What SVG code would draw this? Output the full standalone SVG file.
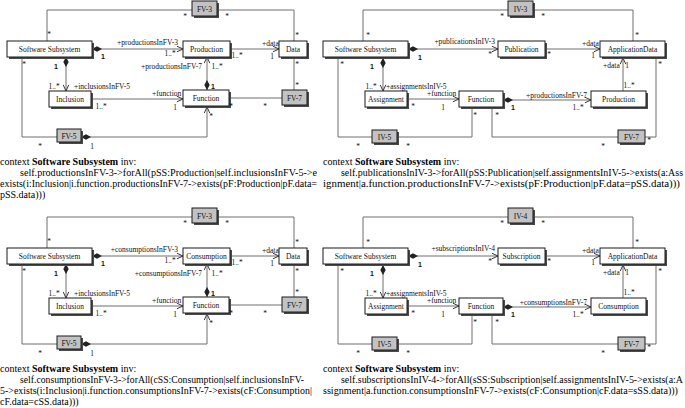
<svg xmlns="http://www.w3.org/2000/svg" width="685" height="408" viewBox="0 0 685 408">
<style>
.bg{fill:#fff}
.box{fill:#fff;stroke:#1a1a1a;stroke-width:1}
.gbox{fill:#c2c2c2;stroke:#1a1a1a;stroke-width:1}
.sh{fill:#4a4a4a}
.lbl{font-family:"Liberation Serif",serif;font-size:7.5px;fill:#111}
.nm{text-anchor:middle}
.e{text-anchor:end}
.sb{font-family:"Liberation Sans",sans-serif;font-weight:bold;font-size:7px;fill:#111;text-anchor:middle}
.c{fill:none;stroke:#6e6e6e;stroke-width:1}
.ad{marker-start:url(#dia);marker-end:url(#arr)}
.a{marker-end:url(#arr)}
.para{font-family:"Liberation Serif",serif;font-size:10px;fill:#000}
</style>
<defs>
<marker id="arr" viewBox="0 0 8 8" refX="7.5" refY="4" markerWidth="7" markerHeight="7" markerUnits="userSpaceOnUse" orient="auto"><path d="M0.5,0.8 L7.5,4 L0.5,7.2" fill="none" stroke="#333" stroke-width="1.1"/></marker>
<marker id="dia" viewBox="0 0 10 6" refX="0" refY="3" markerWidth="10" markerHeight="6" markerUnits="userSpaceOnUse" orient="auto"><path d="M0,3 L5,0.3 L10,3 L5,5.7 Z" fill="#222"/></marker>
</defs>
<rect class="bg" x="0" y="0" width="685" height="408"/>

<!-- ===== TOP LEFT ===== -->
<g id="diagram-tl">
<g id="tl-connectors">
<path class="c" d="M47,41 V10 H192"/>
<path class="c" d="M217,10 H294 V41"/>
<path class="c ad" d="M92,49 H183"/>
<path class="c a" d="M230,49 H279"/>
<path class="c ad" d="M207,90 V57"/>
<path class="c ad" d="M66,57 V91"/>
<path class="c a" d="M91,99 H183"/>
<path class="c" d="M294,57 V90"/>
<path class="c" d="M229,98 H282"/>
<path class="c" d="M22,57 V137 H57"/>
<path class="c ad" d="M81,137 H207 V107"/>
</g>
<g id="tl-ss"><rect class="sh" x="9" y="43" width="85" height="16"/><rect class="box" x="7" y="41" width="85" height="16"/><text class="lbl nm" x="49.5" y="52">Software Subsystem</text></g>
<g id="tl-production"><rect class="sh" x="185" y="43" width="47" height="16"/><rect class="box" x="183" y="41" width="47" height="16"/><text class="lbl nm" x="206.5" y="52">Production</text></g>
<g id="tl-data"><rect class="sh" x="281" y="43" width="28" height="16"/><rect class="box" x="279" y="41" width="28" height="16"/><text class="lbl nm" x="293" y="52">Data</text></g>
<g id="tl-inclusion"><rect class="sh" x="51" y="93" width="42" height="16"/><rect class="box" x="49" y="91" width="42" height="16"/><text class="lbl nm" x="70" y="102">Inclusion</text></g>
<g id="tl-function"><rect class="sh" x="185" y="92" width="46" height="16"/><rect class="box" x="183" y="90" width="46" height="16"/><text class="lbl nm" x="206" y="101">Function</text></g>
<g id="tl-fv3"><rect class="sh" x="194" y="3" width="25" height="15"/><rect class="gbox" x="192" y="1" width="25" height="15"/><text class="lbl nm" x="204.5" y="11.5">FV-3</text></g>
<g id="tl-fv7"><rect class="sh" x="284" y="92" width="25" height="15"/><rect class="gbox" x="282" y="90" width="25" height="15"/><text class="lbl nm" x="294.5" y="100.5">FV-7</text></g>
<g id="tl-fv5"><rect class="sh" x="59" y="131" width="24" height="13"/><rect class="gbox" x="57" y="129" width="24" height="13"/><text class="lbl nm" x="69" y="138.5">FV-5</text></g>
<g id="tl-labels">
<text class="lbl nm" x="49" y="37">*</text><text class="lbl nm" x="185" y="19">*</text><text class="lbl nm" x="227" y="19">*</text>
<text class="lbl nm" x="297" y="38">*</text><text class="lbl nm" x="297" y="67">*</text><text class="lbl nm" x="297" y="88">*</text>
<text class="lbl nm" x="231" y="109">*</text><text class="lbl nm" x="265" y="109">*</text><text class="lbl nm" x="24" y="67">*</text>
<text class="lbl nm" x="40" y="149">*</text><text class="lbl nm" x="211" y="119">*</text>
<text class="lbl nm" x="170" y="56">1..*</text><text class="lbl nm" x="217" y="69">1..*</text><text class="lbl nm" x="237" y="58">1..*</text>
<text class="lbl nm" x="54" y="89">1..*</text><text class="lbl nm" x="101" y="109">1..*</text>
<text class="lbl nm" x="272" y="59">1</text><text class="lbl nm" x="175" y="110">1</text><text class="lbl nm" x="92" y="149">1</text>
<text class="sb" x="103" y="59">1</text><text class="sb" x="56" y="69">1</text><text class="sb" x="213" y="89">1</text>
<text class="lbl e" x="178" y="44.5">+productionsInFV-3</text>
<text class="lbl e" x="202" y="69">+productionsInFV-7</text>
<text class="lbl" x="262" y="45.5">+data</text>
<text class="lbl" x="74" y="88.5">+inclusionsInFV-5</text>
<text class="lbl" x="152" y="95.5">+function</text>
</g>
</g>

<!-- ===== TOP RIGHT ===== -->
<g id="diagram-tr">
<g id="tr-connectors">
<path class="c" d="M363,41 V10 H508"/>
<path class="c" d="M533,10 H633 V41"/>
<path class="c ad" d="M408,49 H498"/>
<path class="c a" d="M545,49 H600"/>
<path class="c ad" d="M383,58 V91"/>
<path class="c a" d="M407,99 H459"/>
<path class="c ad" d="M503,100 H591"/>
<path class="c a" d="M623,91 V58"/>
<path class="c" d="M338,58 V137 H372"/>
<path class="c" d="M472,108 V137 H397"/>
<path class="c" d="M492,108 V137 H618"/>
<path class="c" d="M656,58 V137 H645"/>
</g>
<g id="tr-ss"><rect class="sh" x="325" y="43" width="85" height="16"/><rect class="box" x="323" y="41" width="85" height="16"/><text class="lbl nm" x="365.5" y="52">Software Subsystem</text></g>
<g id="tr-publication"><rect class="sh" x="500" y="43" width="47" height="16"/><rect class="box" x="498" y="41" width="47" height="16"/><text class="lbl nm" x="521.5" y="52">Publication</text></g>
<g id="tr-appdata"><rect class="sh" x="602" y="43" width="65" height="16"/><rect class="box" x="600" y="41" width="65" height="16"/><text class="lbl nm" x="632.5" y="52">ApplicationData</text></g>
<g id="tr-iv3"><rect class="sh" x="510" y="3" width="25" height="15"/><rect class="gbox" x="508" y="1" width="25" height="15"/><text class="lbl nm" x="520.5" y="11.5">IV-3</text></g>
<g id="tr-assignment"><rect class="sh" x="367" y="93" width="42" height="16"/><rect class="box" x="365" y="91" width="42" height="16"/><text class="lbl nm" x="386" y="102">Assignment</text></g>
<g id="tr-function"><rect class="sh" x="461" y="93" width="44" height="16"/><rect class="box" x="459" y="91" width="44" height="16"/><text class="lbl nm" x="481" y="102">Function</text></g>
<g id="tr-production"><rect class="sh" x="593" y="93" width="55" height="16"/><rect class="box" x="591" y="91" width="55" height="16"/><text class="lbl nm" x="618.5" y="102">Production</text></g>
<g id="tr-iv5"><rect class="sh" x="374" y="132" width="25" height="13"/><rect class="gbox" x="372" y="130" width="25" height="13"/><text class="lbl nm" x="384.5" y="139.5">IV-5</text></g>
<g id="tr-fv7"><rect class="sh" x="620" y="132" width="25" height="13"/><rect class="gbox" x="618" y="130" width="27" height="13"/><text class="lbl nm" x="631.5" y="139.5">FV-7</text></g>
<g id="tr-labels">
<text class="lbl nm" x="368" y="38">*</text><text class="lbl nm" x="502" y="19">*</text><text class="lbl nm" x="543" y="19">*</text>
<text class="lbl nm" x="637" y="38">*</text><text class="lbl nm" x="490" y="57">*</text><text class="lbl nm" x="549" y="57">*</text>
<text class="lbl nm" x="342" y="67">*</text><text class="lbl nm" x="413" y="109">*</text><text class="lbl nm" x="475" y="118">*</text>
<text class="lbl nm" x="497" y="118">*</text><text class="lbl nm" x="660" y="67">*</text><text class="lbl nm" x="358" y="149">*</text>
<text class="lbl nm" x="408" y="149">*</text><text class="lbl nm" x="603" y="149">*</text><text class="lbl nm" x="649" y="143">*</text>
<text class="lbl nm" x="371" y="89">1..*</text><text class="lbl nm" x="578" y="110">1..*</text><text class="lbl nm" x="629" y="88">1..*</text>
<text class="lbl nm" x="593" y="58">1</text><text class="lbl nm" x="443" y="110">1</text><text class="lbl nm" x="627" y="68">1</text>
<text class="sb" x="420" y="60">1</text><text class="sb" x="372" y="69">1</text><text class="sb" x="513" y="110">1</text>
<text class="lbl e" x="495" y="43.5">+publicationsInIV-3</text>
<text class="lbl" x="582" y="45.5">+data</text>
<text class="lbl" x="386" y="88.5">+assignmentsInIV-5</text>
<text class="lbl" x="427" y="96">+function</text>
<text class="lbl e" x="587" y="98">+productionsInFV-7</text>
<text class="lbl" x="603" y="67.5">+data</text>
</g>
</g>

<!-- ===== BOTTOM LEFT ===== -->
<g id="diagram-bl" transform="translate(0,207)">
<g id="bl-connectors">
<path class="c" d="M47,41 V10 H192"/>
<path class="c" d="M217,10 H294 V41"/>
<path class="c ad" d="M92,49 H183"/>
<path class="c a" d="M230,49 H279"/>
<path class="c ad" d="M207,90 V57"/>
<path class="c ad" d="M66,57 V91"/>
<path class="c a" d="M91,99 H183"/>
<path class="c" d="M294,57 V90"/>
<path class="c" d="M229,98 H282"/>
<path class="c" d="M22,57 V137 H57"/>
<path class="c ad" d="M81,137 H207 V107"/>
</g>
<g id="bl-ss"><rect class="sh" x="9" y="43" width="85" height="16"/><rect class="box" x="7" y="41" width="85" height="16"/><text class="lbl nm" x="49.5" y="52">Software Subsystem</text></g>
<g id="bl-consumption"><rect class="sh" x="185" y="43" width="47" height="16"/><rect class="box" x="183" y="41" width="47" height="16"/><text class="lbl nm" x="206.5" y="52">Consumption</text></g>
<g id="bl-data"><rect class="sh" x="281" y="43" width="28" height="16"/><rect class="box" x="279" y="41" width="28" height="16"/><text class="lbl nm" x="293" y="52">Data</text></g>
<g id="bl-inclusion"><rect class="sh" x="51" y="93" width="42" height="16"/><rect class="box" x="49" y="91" width="42" height="16"/><text class="lbl nm" x="70" y="102">Inclusion</text></g>
<g id="bl-function"><rect class="sh" x="185" y="92" width="46" height="16"/><rect class="box" x="183" y="90" width="46" height="16"/><text class="lbl nm" x="206" y="101">Function</text></g>
<g id="bl-fv3"><rect class="sh" x="194" y="3" width="25" height="15"/><rect class="gbox" x="192" y="1" width="25" height="15"/><text class="lbl nm" x="204.5" y="11.5">FV-3</text></g>
<g id="bl-fv7"><rect class="sh" x="284" y="92" width="25" height="15"/><rect class="gbox" x="282" y="90" width="25" height="15"/><text class="lbl nm" x="294.5" y="100.5">FV-7</text></g>
<g id="bl-fv5"><rect class="sh" x="59" y="131" width="24" height="13"/><rect class="gbox" x="57" y="129" width="24" height="13"/><text class="lbl nm" x="69" y="138.5">FV-5</text></g>
<g id="bl-labels">
<text class="lbl nm" x="49" y="37">*</text><text class="lbl nm" x="185" y="19">*</text><text class="lbl nm" x="227" y="19">*</text>
<text class="lbl nm" x="297" y="38">*</text><text class="lbl nm" x="297" y="67">*</text><text class="lbl nm" x="297" y="88">*</text>
<text class="lbl nm" x="231" y="109">*</text><text class="lbl nm" x="265" y="109">*</text><text class="lbl nm" x="24" y="67">*</text>
<text class="lbl nm" x="40" y="149">*</text><text class="lbl nm" x="211" y="119">*</text>
<text class="lbl nm" x="170" y="56">1..*</text><text class="lbl nm" x="217" y="69">1..*</text><text class="lbl nm" x="237" y="58">1..*</text>
<text class="lbl nm" x="54" y="89">1..*</text><text class="lbl nm" x="101" y="109">1..*</text>
<text class="lbl nm" x="272" y="59">1</text><text class="lbl nm" x="175" y="110">1</text><text class="lbl nm" x="92" y="149">1</text>
<text class="sb" x="103" y="59">1</text><text class="sb" x="56" y="69">1</text><text class="sb" x="213" y="89">1</text>
<text class="lbl e" x="178" y="44.5">+consumptionsInFV-3</text>
<text class="lbl e" x="202" y="69">+consumptionsInFV-7</text>
<text class="lbl" x="262" y="45.5">+data</text>
<text class="lbl" x="74" y="88.5">+inclusionsInFV-5</text>
<text class="lbl" x="152" y="95.5">+function</text>
</g>
</g>

<!-- ===== BOTTOM RIGHT ===== -->
<g id="diagram-br" transform="translate(0,207)">
<g id="br-connectors">
<path class="c" d="M363,41 V10 H508"/>
<path class="c" d="M533,10 H633 V41"/>
<path class="c ad" d="M408,49 H498"/>
<path class="c a" d="M545,49 H600"/>
<path class="c ad" d="M383,58 V91"/>
<path class="c a" d="M407,99 H459"/>
<path class="c ad" d="M503,100 H591"/>
<path class="c a" d="M623,91 V58"/>
<path class="c" d="M338,58 V137 H372"/>
<path class="c" d="M472,108 V137 H397"/>
<path class="c" d="M492,108 V137 H618"/>
<path class="c" d="M656,58 V137 H645"/>
</g>
<g id="br-ss"><rect class="sh" x="325" y="43" width="85" height="16"/><rect class="box" x="323" y="41" width="85" height="16"/><text class="lbl nm" x="365.5" y="52">Software Subsystem</text></g>
<g id="br-subscription"><rect class="sh" x="500" y="43" width="47" height="16"/><rect class="box" x="498" y="41" width="47" height="16"/><text class="lbl nm" x="521.5" y="52">Subscription</text></g>
<g id="br-appdata"><rect class="sh" x="602" y="43" width="65" height="16"/><rect class="box" x="600" y="41" width="65" height="16"/><text class="lbl nm" x="632.5" y="52">ApplicationData</text></g>
<g id="br-iv4"><rect class="sh" x="510" y="3" width="25" height="15"/><rect class="gbox" x="508" y="1" width="25" height="15"/><text class="lbl nm" x="520.5" y="11.5">IV-4</text></g>
<g id="br-assignment"><rect class="sh" x="367" y="93" width="42" height="16"/><rect class="box" x="365" y="91" width="42" height="16"/><text class="lbl nm" x="386" y="102">Assignment</text></g>
<g id="br-function"><rect class="sh" x="461" y="93" width="44" height="16"/><rect class="box" x="459" y="91" width="44" height="16"/><text class="lbl nm" x="481" y="102">Function</text></g>
<g id="br-consumption"><rect class="sh" x="593" y="93" width="55" height="16"/><rect class="box" x="591" y="91" width="55" height="16"/><text class="lbl nm" x="618.5" y="102">Consumption</text></g>
<g id="br-iv5"><rect class="sh" x="374" y="132" width="25" height="13"/><rect class="gbox" x="372" y="130" width="25" height="13"/><text class="lbl nm" x="384.5" y="139.5">IV-5</text></g>
<g id="br-fv7"><rect class="sh" x="620" y="132" width="25" height="13"/><rect class="gbox" x="618" y="130" width="27" height="13"/><text class="lbl nm" x="631.5" y="139.5">FV-7</text></g>
<g id="br-labels">
<text class="lbl nm" x="368" y="38">*</text><text class="lbl nm" x="502" y="19">*</text><text class="lbl nm" x="543" y="19">*</text>
<text class="lbl nm" x="637" y="38">*</text><text class="lbl nm" x="490" y="57">*</text><text class="lbl nm" x="549" y="57">*</text>
<text class="lbl nm" x="342" y="67">*</text><text class="lbl nm" x="413" y="109">*</text><text class="lbl nm" x="475" y="118">*</text>
<text class="lbl nm" x="497" y="118">*</text><text class="lbl nm" x="660" y="67">*</text><text class="lbl nm" x="358" y="149">*</text>
<text class="lbl nm" x="408" y="149">*</text><text class="lbl nm" x="603" y="149">*</text><text class="lbl nm" x="649" y="143">*</text>
<text class="lbl nm" x="371" y="89">1..*</text><text class="lbl nm" x="578" y="110">1..*</text><text class="lbl nm" x="629" y="88">1..*</text>
<text class="lbl nm" x="593" y="58">1</text><text class="lbl nm" x="443" y="110">1</text><text class="lbl nm" x="627" y="68">1</text>
<text class="sb" x="420" y="60">1</text><text class="sb" x="372" y="69">1</text><text class="sb" x="513" y="110">1</text>
<text class="lbl e" x="495" y="43.5">+subscriptionsInIV-4</text>
<text class="lbl" x="582" y="45.5">+data</text>
<text class="lbl" x="386" y="88.5">+assignmentsInIV-5</text>
<text class="lbl" x="427" y="96">+function</text>
<text class="lbl e" x="587" y="98">+consumptionsInFV-7</text>
<text class="lbl" x="603" y="67.5">+data</text>
</g>
</g>

<!-- ===== OCL TEXTS ===== -->
<g id="ocl-tl" class="para">
<text x="0" y="165">context <tspan font-weight="bold">Software Subsystem</tspan> inv:</text>
<text x="20" y="176" textLength="297" lengthAdjust="spacingAndGlyphs">self.productionsInFV-3-&gt;forAll(pSS:Production|self.inclusionsInFV-5-&gt;e</text>
<text x="0" y="187" textLength="317" lengthAdjust="spacingAndGlyphs">exists(i:Inclusion|i.function.productionsInFV-7-&gt;exists(pF:Production|pF.data=</text>
<text x="0" y="198">pSS.data)))</text>
</g>
<g id="ocl-tr" class="para">
<text x="323" y="165">context <tspan font-weight="bold">Software Subsystem</tspan> inv:</text>
<text x="341" y="176" textLength="342" lengthAdjust="spacingAndGlyphs">self.publicationsInIV-3-&gt;forAll(pSS:Publication|self.assignmentsInIV-5-&gt;exists(a:Ass</text>
<text x="323" y="187" textLength="357" lengthAdjust="spacingAndGlyphs">ignment|a.function.productionsInFV-7-&gt;exists(pF:Production|pF.data=pSS.data)))</text>
</g>
<g id="ocl-bl" class="para">
<text x="0" y="372">context <tspan font-weight="bold">Software Subsystem</tspan> inv:</text>
<text x="20" y="383" textLength="284" lengthAdjust="spacingAndGlyphs">self.consumptionsInFV-3-&gt;forAll(cSS:Consumption|self.inclusionsInFV-</text>
<text x="0" y="394" textLength="312" lengthAdjust="spacingAndGlyphs">5-&gt;exists(i:Inclusion|i.function.consumptionsInFV-7-&gt;exists(cF:Consumption|</text>
<text x="0" y="405">cF.data=cSS.data)))</text>
</g>
<g id="ocl-br" class="para">
<text x="323" y="372">context <tspan font-weight="bold">Software Subsystem</tspan> inv:</text>
<text x="341" y="383" textLength="342" lengthAdjust="spacingAndGlyphs">self.subscriptionsInIV-4-&gt;forAll(sSS:Subscription|self.assignmentsInIV-5-&gt;exists(a:A</text>
<text x="323" y="394" textLength="355" lengthAdjust="spacingAndGlyphs">ssignment|a.function.consumptionsInFV-7-&gt;exists(cF:Consumption|cF.data=sSS.data)))</text>
</g>
</svg>
